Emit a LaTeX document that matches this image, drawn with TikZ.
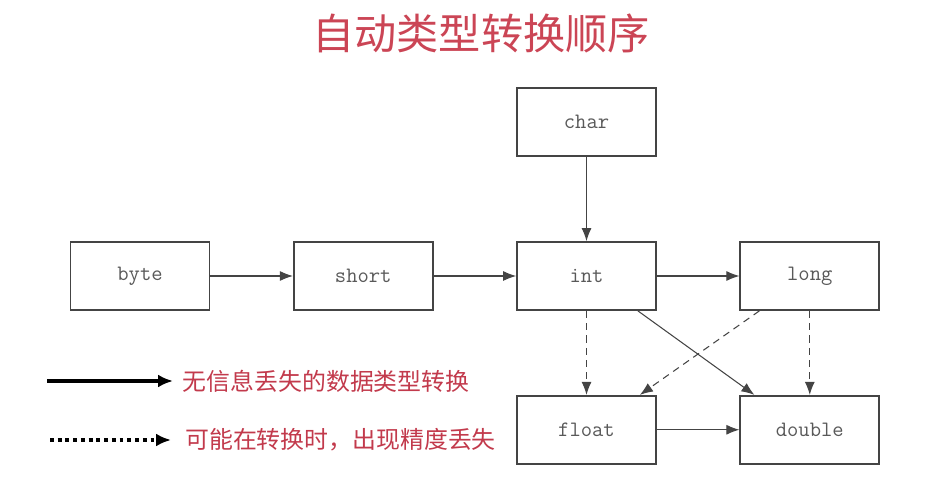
\documentclass[tikz,border=0pt]{standalone}
\usepackage{xcolor}
\usepackage{fontspec}
\newfontfamily\cjk{Noto Sans CJK SC}
\usepackage{tikz}
\usetikzlibrary{arrows.meta,positioning,calc}

\definecolor{titlered}{HTML}{CB4555}
\definecolor{notered}{HTML}{C23A4C}
\definecolor{boxgray}{HTML}{444444}

\begin{document}
\begin{tikzpicture}[
  node distance=1.68cm and 1.65cm,
  typebox/.style={rectangle,draw=boxgray,line width=1pt,minimum width=2.78cm,minimum height=1.36cm,
    font=\ttfamily\fontsize{12.5}{14}\selectfont,text=black!65},
  arr/.style={-{Latex[length=2.6mm,width=2mm]},line width=0.6pt,draw=boxgray},
  lossy/.style={arr,dash pattern=on 4pt off 3pt},
  keyarr/.style={-{Latex[length=3mm,width=2.6mm]},line width=2pt},
  note/.style={anchor=west,text=notered,font=\cjk\fontsize{13.6}{16}\selectfont}
]
\useasboundingbox (0,0) rectangle (18.98,-9.76);

\node[text=titlered,font=\cjk\fontsize{24}{28}\selectfont] (title) at (9.62,-0.66) {自动类型转换顺序};

% types
\node[typebox] (byte) at (2.8,-5.52) {byte};
\node[typebox,right=of byte] (short) {short};
\node[typebox,right=of short] (int) {int};
\node[typebox,right=of int] (long) {long};
\node[typebox,above=of int] (char) {char};
\node[typebox,below=of int] (float) {float};
\node[typebox,below=of long] (double) {double};

\draw[arr] (char) -- (int);
\draw[arr] (byte) -- (short);
\draw[arr] (short) -- (int);
\draw[arr] (int) -- (long);
\draw[arr] (float) -- (double);
\draw[arr] ($(int.south east)+(-0.38,0)$) -- ($(double.north west)+(0.3,0)$);
\draw[lossy] (int) -- (float);
\draw[lossy] (long) -- (double);
\draw[lossy] ($(long.south west)+(0.4,0)$) -- ($(float.north east)+(-0.34,0)$);

% legend
\coordinate (k1a) at (0.94,-7.62);
\coordinate (k1b) at (3.46,-7.62);
\coordinate (k2a) at (1.0,-8.8);
\coordinate (k2b) at (3.42,-8.8);
\draw[keyarr] (k1a) -- (k1b);
\draw[keyarr,dash pattern=on 2.2pt off 2.2pt] (k2a) -- (k2b);
\node[note] (n1) at (3.53,-7.62) {无信息丢失的数据类型转换};
\node[note] (n2) at (3.58,-8.8) {可能在转换时，出现精度丢失};
\end{tikzpicture}
\end{document}
